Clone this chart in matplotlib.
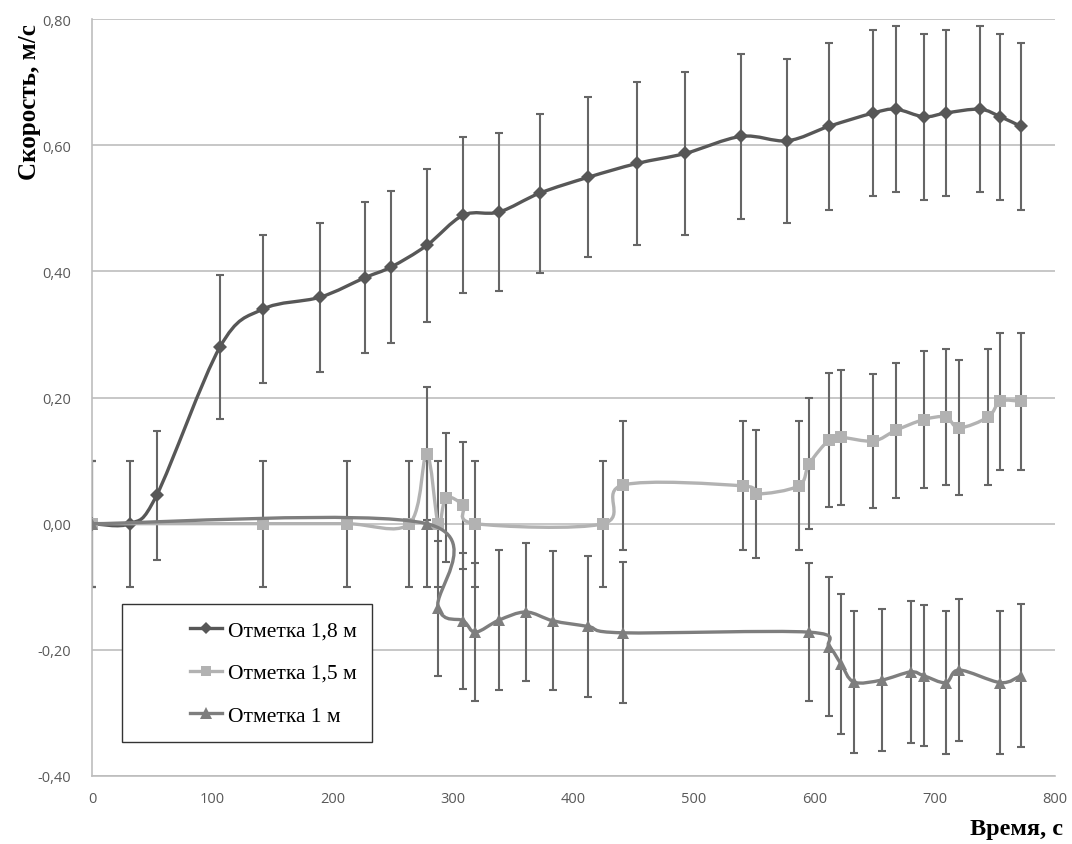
import matplotlib
matplotlib.use("Agg")
import matplotlib.pyplot as plt
import numpy as np
from matplotlib.path import Path
from matplotlib.patches import PathPatch, Rectangle
from matplotlib.lines import Line2D
from matplotlib.ticker import FuncFormatter, MultipleLocator

# Отметка 1,8 м
t_18 = [0, 31.6, 53.7, 106.3, 141.8, 189.4, 226.7, 248.6, 278, 308.4, 338, 372,
        412, 452.8, 493, 539.5, 577.7, 612.4, 649, 667.8, 691, 709.3, 737.5, 754.7, 771.4]
v_18 = [0, 0, 0.045, 0.28, 0.34, 0.359, 0.39, 0.407, 0.441, 0.489, 0.494, 0.524,
        0.549, 0.571, 0.587, 0.614, 0.607, 0.630, 0.651, 0.657, 0.645, 0.651, 0.657, 0.645, 0.630]
e_18 = [0.10, 0.10, 0.102, 0.114, 0.117, 0.118, 0.12, 0.12, 0.122, 0.124, 0.125, 0.126,
        0.127, 0.129, 0.129, 0.131, 0.130, 0.132, 0.132, 0.132, 0.132, 0.132, 0.132, 0.132, 0.132]

# Отметка 1,5 м
t_15 = [0, 141.8, 211.5, 263.6, 278, 287.6, 294, 308.4, 318.5, 424.7, 440.8, 540.4, 552,
        587, 595.8, 612.4, 622.1, 649, 667.8, 691, 709.3, 720.4, 744.4, 754.7, 771.4]
v_15 = [0, 0, 0, 0, 0.111, 0.0, 0.041, 0.029, 0, 0, 0.061, 0.060, 0.047,
        0.060, 0.095, 0.133, 0.137, 0.131, 0.148, 0.165, 0.169, 0.152, 0.169, 0.194, 0.194]
e_15 = [0.10, 0.10, 0.10, 0.10, 0.105, 0.10, 0.102, 0.101, 0.10, 0.10, 0.102, 0.102, 0.102,
        0.102, 0.104, 0.106, 0.107, 0.106, 0.107, 0.108, 0.108, 0.107, 0.108, 0.109, 0.109]

# Отметка 1 м
t_10 = [0, 278, 287.6, 308.4, 318.5, 338, 360.5, 383, 412.2, 440.8, 595.8, 612.4, 622.1,
        632.9, 655.9, 680, 691, 709.3, 720.4, 754.7, 771.4]
v_10 = [0, 0, -0.134, -0.154, -0.172, -0.153, -0.140, -0.154, -0.163, -0.173, -0.172, -0.195,
        -0.222, -0.251, -0.248, -0.235, -0.241, -0.252, -0.232, -0.252, -0.241]
e_10 = [0.10, 0.10, 0.107, 0.108, 0.109, 0.111, 0.110, 0.110, 0.111, 0.112, 0.109, 0.110,
        0.111, 0.113, 0.113, 0.112, 0.112, 0.113, 0.112, 0.113, 0.113]

labels = ["Отметка 1,8 м", "Отметка 1,5 м", "Отметка 1 м"]
colors = ["#575757", "#b2b2b2", "#7e7e7e"]
markers = ["D", "s", "^"]
msizes = [7.5, 8.5, 9]


def smooth_path(x, y):
    # piecewise cubic Bezier through the points (Catmull-Rom style tangents)
    pts = np.column_stack([x, y]).astype(float)
    n = len(pts)
    verts = [pts[0]]
    codes = [Path.MOVETO]
    for i in range(n - 1):
        p0 = pts[max(i - 1, 0)]
        p1 = pts[i]
        p2 = pts[i + 1]
        p3 = pts[min(i + 2, n - 1)]
        verts += [p1 + (p2 - p0) / 6, p2 - (p3 - p1) / 6, p2]
        codes += [Path.CURVE4] * 3
    return Path(verts, codes)


fig = plt.figure(figsize=(10.72, 8.45), dpi=100)
ax = fig.add_axes([92 / 1072, 1 - 777 / 845, 963 / 1072, 757 / 845])

series = [(t_18, v_18, e_18), (t_15, v_15, e_15), (t_10, v_10, e_10)]
for k, (t, v, e) in enumerate(series):
    ax.errorbar(t, v, yerr=e, fmt="none", ecolor="#666666", elinewidth=1.5,
                capsize=3, capthick=1.5, zorder=2 + k * 0.1)
    ax.add_patch(PathPatch(smooth_path(t, v), facecolor="none", edgecolor=colors[k],
                           lw=2.4, zorder=3 + k))
    ax.plot(t, v, linestyle="none", marker=markers[k], markersize=msizes[k],
            color=colors[k], markeredgewidth=0, zorder=3.5 + k)

ax.set_xlim(0, 800)
ax.set_ylim(-0.4, 0.8)
ax.xaxis.set_major_locator(MultipleLocator(100))
ax.yaxis.set_major_locator(MultipleLocator(0.2))
ax.yaxis.set_major_formatter(FuncFormatter(lambda val, _: f"{val:.2f}".replace(".", ",").replace("-0,00", "0,00")))
ax.grid(axis="y", color="#bdbdbd", lw=1.2)
ax.set_axisbelow(True)
for side in ["top", "right"]:
    ax.spines[side].set_visible(False)
for side in ["left", "bottom"]:
    ax.spines[side].set_color("#bdbdbd")
    ax.spines[side].set_linewidth(1.2)
ax.tick_params(length=0, colors="#595959", labelsize=10.5)
ax.tick_params(axis="y", pad=15)
ax.tick_params(axis="x", pad=11)
for lab in ax.get_xticklabels() + ax.get_yticklabels():
    lab.set_fontfamily("Open Sans")

fig.text(30 / 1072, 1 - 102 / 845, "Скорость, м/с", rotation=90, ha="center", va="center",
         fontsize=18, fontweight="bold", family="Liberation Serif")
fig.text(1063 / 1072, 1 - 830 / 845, "Время, с", ha="right", va="center",
         fontsize=17.5, fontweight="bold", family="Liberation Serif")

# legend box
ax.add_patch(Rectangle(((122 - 92) / 963, (777 - 743) / 757), 250 / 963, 138 / 757,
                       transform=ax.transAxes, facecolor="white", edgecolor="#333333",
                       lw=1.0, zorder=8))
handles = [Line2D([], [], color=colors[k], lw=2.4, marker=markers[k],
                  markersize=msizes[k] - 1, markeredgewidth=0) for k in range(3)]
leg = ax.legend(handles, labels, loc="center left",
                bbox_to_anchor=((190 - 92) / 963, (777 - 674) / 757),
                frameon=False, borderaxespad=0, borderpad=0, handlelength=1.5,
                handletextpad=0.25, labelspacing=1.05,
                prop={"family": "Liberation Serif", "size": 15.5})
leg.set_zorder(9)

fig.savefig("out.png", dpi=100)
